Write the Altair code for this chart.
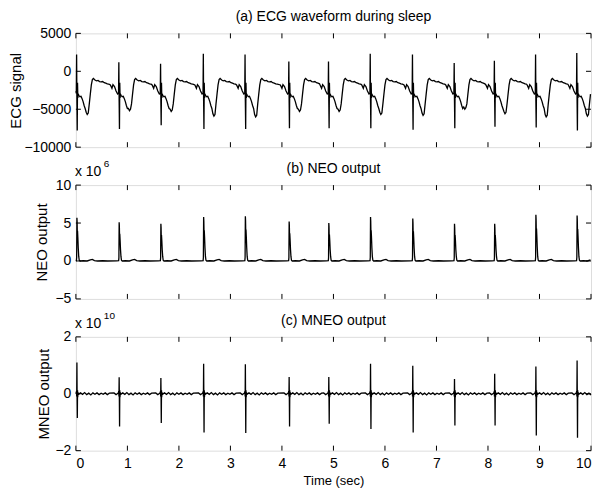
import altair as alt
import pandas as pd

# ---------------- data ----------------
# R-peak times (s)
R_TIMES = [0.02, 0.84, 1.65, 2.48, 3.29, 4.14, 4.91, 5.72, 6.54, 7.35, 8.13, 8.93, 9.73]
# ECG: R top, S bottom, T-wave dip
ECG_R = [2200, 1200, 1000, 2300, 2200, 1300, 1300, 2300, 2200, 1100, 1400, 2200, 2400]
ECG_S = [-7800, -7600, -7100, -7600, -7600, -7500, -7500, -7500, -7700, -7500, -7300, -7400, -7800]
ECG_T = [-5700, -5200, -5300, -5900, -6000, -5300, -5300, -5700, -5800, -5000, -5600, -6000, -5900]
# NEO peaks (x 1e6)
NEO_P = [5.7, 5.1, 4.9, 5.8, 5.9, 5.2, 5.0, 5.8, 5.6, 4.9, 4.9, 6.1, 6.0]
# MNEO up / down spikes (x 1e10)
MNEO_U = [1.1, 0.58, 0.55, 1.05, 1.04, 0.59, 0.59, 1.05, 0.98, 0.52, 0.70, 0.96, 1.17]
MNEO_D = [-0.85, -1.15, -1.03, -1.36, -1.38, -1.15, -1.05, -1.24, -1.36, -1.12, -1.12, -1.47, -1.55]

# beat shapes: (offset from R, key, multiplier, add)
ECG_PRE = [(-0.17, None, 0, -1800), (-0.14, None, 0, -2250), (-0.12, None, 0, -1750),
           (-0.09, None, 0, -2000), (-0.06, None, 0, -2600), (-0.03, None, 0, -3000),
           (-0.012, None, 0, -2900)]
ECG_POST = [(-0.006, "R", 1, 0), (0.0, None, 0, -4000), (0.006, "S", 1, 0),
            (0.012, None, 0, -1500), (0.018, None, 0, -3500), (0.024, None, 0, -3000),
            (0.04, None, 0, -3200), (0.06, None, 0, -3350), (0.08, None, 0, -3300),
            (0.10, None, 0, -3600), (0.12, None, 0, -4000), (0.14, None, 0, -4500),
            (0.16, None, 0, -4900), (0.18, "T", 1, 300), (0.20, "T", 1, 0),
            (0.22, "T", 1, 200), (0.24, None, 0, -4300), (0.26, None, 0, -3000),
            (0.28, None, 0, -1800), (0.30, None, 0, -1100), (0.32, None, 0, -950),
            (0.35, None, 0, -1150), (0.38, None, 0, -1250), (0.41, None, 0, -1200),
            (0.44, None, 0, -1350), (0.47, None, 0, -1400), (0.50, None, 0, -1350),
            (0.53, None, 0, -1500), (0.56, None, 0, -1550), (0.59, None, 0, -1650),
            (0.62, None, 0, -1700)]
ECG_START = [(0.0, -2600)]

NEO_PRE = [(-0.05, None, 0, 0.02), (-0.01, None, 0, 0.05), (-0.005, "P", 0.08, 0)]
NEO_POST = [(0.0, "P", 1, 0), (0.004, "P", 0.9, 0), (0.008, "P", 0.6, 0),
            (0.012, "P", 0.7, 0), (0.018, "P", 0.55, 0), (0.026, "P", 0.3, 0),
            (0.035, None, 0, 0.6), (0.045, None, 0, 0.1), (0.06, None, 0, 0.0),
            (0.12, None, 0, 0.03), (0.2, None, 0, 0.0), (0.26, None, 0, 0.15),
            (0.3, None, 0, 0.2), (0.34, None, 0, 0.05), (0.4, None, 0, 0.0),
            (0.5, None, 0, 0.03), (0.6, None, 0, 0.0)]
NEO_START = [(0.0, 0.0)]

MNEO_PRE = [(-0.1, None, 0, 0.03), (-0.06, None, 0, -0.03), (-0.02, None, 0, 0.02),
            (-0.008, None, 0, 0.08), (-0.004, None, 0, -0.1)]
MNEO_POST = [(0.0, "U", 1, 0), (0.004, None, 0, -0.15), (0.008, "D", 1, 0),
             (0.012, None, 0, 0.12), (0.016, None, 0, -0.12), (0.022, None, 0, 0.05),
             (0.03, None, 0, -0.02), (0.07, None, 0, 0.03), (0.11, None, 0, -0.02),
             (0.15, None, 0, 0.04), (0.19, None, 0, -0.03), (0.23, None, 0, 0.02),
             (0.27, None, 0, -0.04), (0.31, None, 0, 0.03), (0.35, None, 0, -0.02),
             (0.39, None, 0, 0.03), (0.43, None, 0, -0.03), (0.47, None, 0, 0.02),
             (0.51, None, 0, -0.02), (0.55, None, 0, 0.03), (0.59, None, 0, -0.03),
             (0.63, None, 0, 0.02)]
MNEO_START = [(0.0, 0.0)]

X_TICKS = [0, 1, 2, 3, 4, 5, 6, 7, 8, 9, 10]
Y_TICKS_A = [5000, 0, -5000, -10000]
Y_TICKS_B = [10, 5, 0, -5]
Y_TICKS_C = [2, 0, -2]
TITLES = ["(a) ECG waveform during sleep", "(b) NEO output", "(c) MNEO output"]
Y_TITLES = ["ECG signal", "NEO output", "MNEO output"]
EXP_BASE = ["x 10", "x 10"]
EXP_POW = ["6", "10"]


def build(pre, post, start, params):
    pts = list(start)
    n = len(R_TIMES)
    for i, r in enumerate(R_TIMES):
        prev_r = R_TIMES[i - 1] if i > 0 else None
        next_r = R_TIMES[i + 1] if i + 1 < n else None
        pp = {k: v[i] for k, v in params.items()}
        for off, key, mult, add in pre:
            t = r + off
            if t <= 0:
                continue
            if prev_r is not None and t <= prev_r + 0.05:
                continue
            val = (mult * pp[key] if key else 0) + add
            pts.append((t, val))
        for off, key, mult, add in post:
            t = r + off
            if t > 10:
                continue
            if next_r is not None and off > 0.05 and t >= next_r + pre[0][0]:
                continue
            val = (mult * pp[key] if key else 0) + add
            pts.append((t, val))
    pts.sort(key=lambda p: p[0])
    return pd.DataFrame(pts, columns=["t", "v"])


ecg = build(ECG_PRE, ECG_POST, ECG_START, {"R": ECG_R, "S": ECG_S, "T": ECG_T})
neo = build(NEO_PRE, NEO_POST, NEO_START, {"P": NEO_P})
mneo = build(MNEO_PRE, MNEO_POST, MNEO_START, {"U": MNEO_U, "D": MNEO_D})

W, H = 516, 114
FONT = "Liberation Sans"
TICK = 5


def panel(df, ydom, yticks, title, ytitle, title_x, exp=None, bottom=False):
    xscale = alt.Scale(domain=[0, 10], nice=False, zero=False)
    yscale = alt.Scale(domain=ydom, nice=False, zero=False)
    if bottom:
        xaxis = alt.Axis(values=X_TICKS, ticks=False, domain=False, grid=False,
                         labelPadding=6, labelFontSize=14, labelFont=FONT,
                         title="Time (sec)", titleFontSize=13, titleFont=FONT,
                         titleFontWeight="normal", titlePadding=4, format="d")
    else:
        xaxis = None
    yaxis = alt.Axis(values=yticks, ticks=False, domain=False, grid=False,
                     labelPadding=5, labelFontSize=14, labelFont=FONT,
                     title=ytitle, titleFontSize=15, titleFont=FONT,
                     titleFontWeight="normal", titleX=title_x, titleY=H / 2,
                     titleAngle=-90, titleAlign="center", titleBaseline="middle",
                     format="d")
    X = alt.X("t:Q", scale=xscale, axis=xaxis, title="Time (sec)" if bottom else None)
    Y = alt.Y("v:Q", scale=yscale, axis=yaxis, title=ytitle)

    line = alt.Chart(df).mark_line(color="black", strokeWidth=1.3).encode(x=X, y=Y)

    xt = pd.DataFrame({"t": X_TICKS})
    yt = pd.DataFrame({"v": yticks})
    top_t = alt.Chart(xt).mark_rule(color="black", strokeWidth=1).encode(
        x=X, y=alt.value(0), y2=alt.value(TICK))
    bot_t = alt.Chart(xt).mark_rule(color="black", strokeWidth=1).encode(
        x=X, y=alt.value(H - TICK), y2=alt.value(H))
    left_t = alt.Chart(yt).mark_rule(color="black", strokeWidth=1).encode(
        y=Y, x=alt.value(0), x2=alt.value(TICK))
    right_t = alt.Chart(yt).mark_rule(color="black", strokeWidth=1).encode(
        y=Y, x=alt.value(W - TICK), x2=alt.value(W))

    ttl = alt.Chart(pd.DataFrame({"label": [title]})).mark_text(
        font=FONT, fontSize=14, color="black", align="center", baseline="middle"
    ).encode(x=alt.value(W / 2), y=alt.value(-16), text="label:N")

    layers = [line, top_t, bot_t, left_t, right_t, ttl]
    if exp is not None:
        base, pw = exp
        e1 = alt.Chart(pd.DataFrame({"label": [base]})).mark_text(
            font=FONT, fontSize=14, color="black", align="left", baseline="middle"
        ).encode(x=alt.value(-1), y=alt.value(-13), text="label:N")
        e2 = alt.Chart(pd.DataFrame({"label": [pw]})).mark_text(
            font=FONT, fontSize=10, color="black", align="left", baseline="middle"
        ).encode(x=alt.value(28), y=alt.value(-21), text="label:N")
        layers += [e1, e2]
    return alt.layer(*layers).properties(width=W, height=H)


pa = panel(ecg, [-10000, 5000], Y_TICKS_A, TITLES[0], Y_TITLES[0], -60)
pb = panel(neo, [-5, 10], Y_TICKS_B, TITLES[1], Y_TITLES[1], -34,
           exp=(EXP_BASE[0], EXP_POW[0]))
pc = panel(mneo, [-2, 2], Y_TICKS_C, TITLES[2], Y_TITLES[2], -32,
           exp=(EXP_BASE[1], EXP_POW[1]), bottom=True)

chart = alt.vconcat(pa, pb, pc, spacing=3).properties(
    padding={"left": 0, "top": 1, "right": 0, "bottom": 0}
).configure_view(stroke="black", strokeWidth=1.2).configure(background="white")

chart.save("out.html", embed_options={"renderer": "svg", "actions": False})
